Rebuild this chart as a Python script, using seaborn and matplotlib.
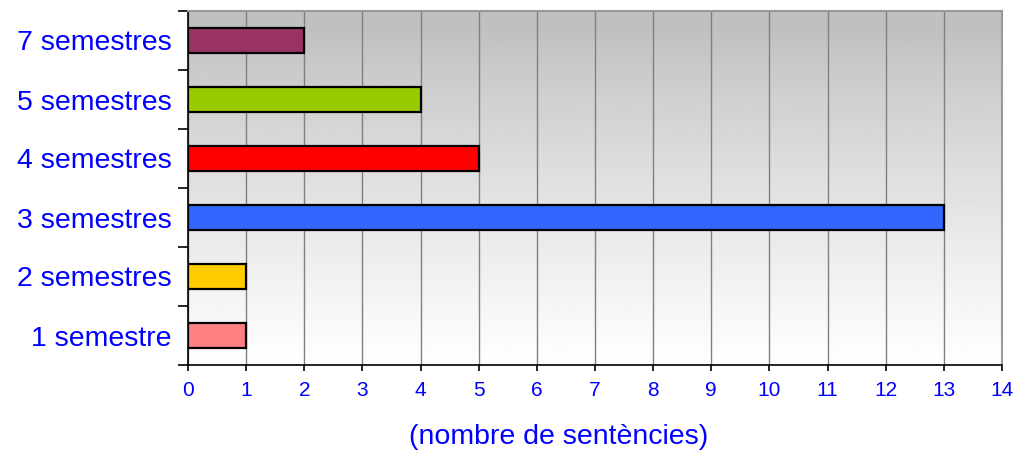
import numpy as np
import pandas as pd
import matplotlib
matplotlib.use("Agg")
import matplotlib.pyplot as plt
import seaborn as sns

# Sentence counts by duration
categories = ["7 semestres", "5 semestres", "4 semestres", "3 semestres", "2 semestres", "1 semestre"]
values = [2, 4, 5, 13, 1, 1]
bar_colors = ["#993366", "#99CC00", "#FF0000", "#3366FF", "#FFCC00", "#FF8080"]
x_ticks = list(range(0, 15))
x_label = "(nombre de sentències)"

sns.set_theme(style="white")
plt.rcParams["font.family"] = ["Liberation Sans", "DejaVu Sans"]

df = pd.DataFrame({"durada": categories, "n": values})

fig = plt.figure(figsize=(10.17, 4.53), dpi=100)
ax = fig.add_axes([188 / 1017, 1 - 365 / 453, (1002 - 188) / 1017, (365 - 11) / 453])

# vertical gray (top) to white (bottom) gradient behind the bars
rows = np.linspace(0, 1, 256)
shade = np.clip(0.75 + 0.25 * np.clip((rows - 0.05) / 0.95, 0, 1) ** 0.85, 0, 1)
grad = np.repeat(shade[:, None], 2, axis=1)
ax.imshow(grad, cmap="gray", vmin=0, vmax=1, aspect="auto", origin="upper",
          extent=[0, 1, 0, 1], transform=ax.transAxes, zorder=-2,
          interpolation="bilinear")

sns.barplot(data=df, y="durada", x="n", hue="durada", order=categories,
            hue_order=categories, palette=bar_colors, orient="h",
            saturation=1, width=0.42, edgecolor="black", linewidth=1.6,
            legend=False, ax=ax, zorder=3)

ax.set_xlim(0, 14)
ax.set_ylim(5.5, -0.5)
ax.set_xticks(x_ticks)
ax.set_xticklabels([str(t) for t in x_ticks], fontsize=15, color="#0000FF")

# category labels centered on bars, tick marks on category boundaries
ax.set_yticks(range(len(categories)))
ax.set_yticklabels(categories)
ax.set_yticks(np.arange(-0.5, len(categories)), minor=True)
ax.tick_params(axis="y", which="major", length=0, pad=12,
               labelsize=20.5, labelcolor="#0000FF")
ax.tick_params(axis="y", which="minor", length=7, width=1.2, color="black", left=True)
ax.tick_params(axis="x", which="major", length=4.5, width=1.2, color="black",
               bottom=True, pad=7, labelsize=15, labelcolor="#0000FF")

ax.grid(axis="x", color="#808080", linewidth=1.0)
ax.grid(axis="y", visible=False)
ax.set_axisbelow(True)
for gl in ax.get_xgridlines():
    gl.set_zorder(1)

ax.set_xlabel("")
ax.set_ylabel("")
ax.spines["left"].set_color("black")
ax.spines["left"].set_linewidth(1.2)
ax.spines["bottom"].set_color("black")
ax.spines["bottom"].set_linewidth(1.2)
for s in ("top", "right"):
    ax.spines[s].set_color("#9a9a9a")
    ax.spines[s].set_linewidth(1.5)
for s in ax.spines.values():
    s.set_zorder(5)

fig.text(559 / 1017, 1 - 437 / 453, x_label, ha="center", va="center",
         color="#0000FF", fontsize=20.5)

fig.savefig("out.png", dpi=100)
